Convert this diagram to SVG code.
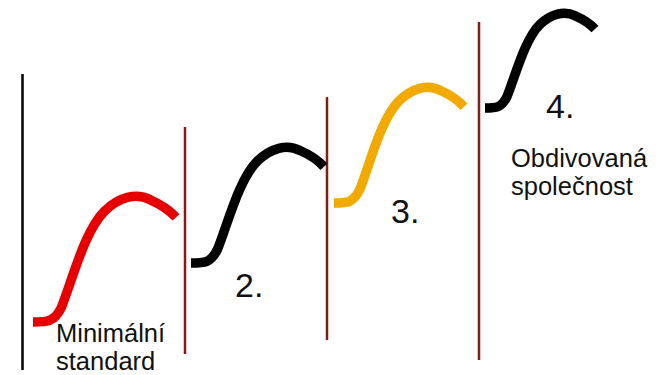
<svg xmlns="http://www.w3.org/2000/svg" width="663" height="375" viewBox="0 0 663 375">
<style>
.div{stroke:#861a14;stroke-width:2.5;fill:none}
.curve{fill:none;stroke-width:9.5;stroke-linecap:butt;stroke-linejoin:round}
.lbl{font-family:"Liberation Sans",Arial,sans-serif;font-size:25.5px;fill:#111}
.num{font-family:"Liberation Sans",Arial,sans-serif;font-size:34px;fill:#111}
</style>
<rect width="663" height="375" fill="#fff"/>
<g id="dividers">
<line x1="22.5" y1="74" x2="22.5" y2="370" stroke="#000" stroke-width="2.5"/>
<line class="div" x1="185" y1="127" x2="185" y2="354"/>
<line class="div" x1="327" y1="97" x2="327" y2="340"/>
<line class="div" x1="479" y1="22" x2="479" y2="360"/>
</g>
<g id="step1">
<path class="curve" stroke="#e60000" d="M33,322 C47.3,322 54.5,322 61.6,306.9 C73,277.9 84.5,231.3 104.5,211.1 C118.8,197.3 136,192.2 150.3,199.8 C161.7,204.8 170.3,211.1 176,217.4"/>
<text class="lbl" x="56" y="342">Minimální</text>
<text class="lbl" x="56" y="370">standard</text>
</g>
<g id="step2">
<path class="curve" stroke="#000" d="M191,263 C204.3,263 211,263 217.6,249.1 C228.2,222.4 238.9,179.5 257.5,160.9 C270.8,148.2 286.8,143.5 300,150.5 C310.7,155.1 318.7,161 324,166.7"/>
<text class="num" x="235" y="297">2.</text>
</g>
<g id="step3">
<path class="curve" stroke="#f2a900" d="M334,203 C347,203 353.5,203 360,189.1 C370.4,162.4 380.8,119.5 399,100.9 C412,88.2 427.6,83.5 440.6,90.5 C451,95.1 458.8,101 464,106.7"/>
<text class="num" x="391" y="223">3.</text>
</g>
<g id="step4">
<path class="curve" stroke="#000" d="M485,108 C496,108 501.5,108 507,96.6 C515.8,74.7 524.6,39.6 540,24.4 C551,14 564.2,10.1 575.2,15.8 C584,19.6 590.6,24.4 595,29.1"/>
<text class="num" x="546" y="118">4.</text>
<text class="lbl" x="511" y="167">Obdivovaná</text>
<text class="lbl" x="511" y="195">společnost</text>
</g>
</svg>
